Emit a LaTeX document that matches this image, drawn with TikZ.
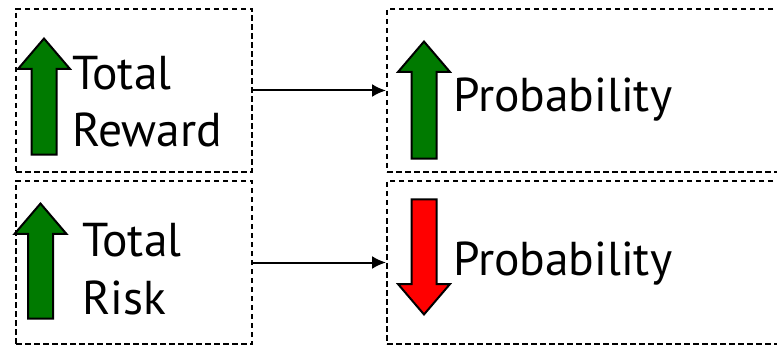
\documentclass[tikz,border=0pt]{standalone}
\usepackage{fontspec}
\setmainfont{PT Sans}
\usetikzlibrary{shapes.arrows,arrows.meta}
\definecolor{upgreen}{RGB}{0,122,0}
\definecolor{downred}{RGB}{255,0,0}
\begin{document}
\begin{tikzpicture}[x=1pt,y=1pt,
        panel/.style={draw,dash pattern=on 5.5pt off 3.5pt,line width=2pt,minimum width=236pt,minimum height=163pt,inner sep=0pt},
        wide panel/.style={panel,minimum width=413pt},
        bigarrow/.style={single arrow,draw,line width=2pt,inner sep=11.5pt,
            minimum height=116pt,single arrow head extend=13.5pt,single arrow tip angle=81,anchor=tip},
        word/.style={font=\fontsize{47.5}{58}\selectfont,align=left,inner sep=0pt,anchor=base west},
        link/.style={-{Latex[length=14pt,width=13pt]},line width=2pt}
    ]
    \useasboundingbox (0,0) rectangle (777,346);
    % left column
    \node[panel] (reward) at (134,255.5) {};
    \node[panel] (risk) at (134,83.5) {};
    % right column, cut at the right edge
    \node[wide panel] (probup) at (593.5,255.5) {};
    \node[wide panel] (probdown) at (593.5,83.5) {};
    % arrows
    \node[bigarrow,fill=upgreen,shape border rotate=90] (a1) at (44,309) {};
    \node[bigarrow,fill=upgreen,shape border rotate=90,minimum height=115pt] (a2) at (40.5,144) {};
    \node[bigarrow,fill=upgreen,shape border rotate=90,minimum height=117pt] (a3) at (424,306) {};
    \node[bigarrow,fill=downred,shape border rotate=270,minimum height=115pt] (a4) at (424,30) {};
    % texts (base is the last line)
    \node[word] (t1) at (72,199) {Total\\Reward};
    \node[word] (t2) at (82,32) {Total\\Risk};
    \node[word] (t3) at (453,234) {Probability};
    \node[word] (t4) at (453,71) {Probability};
    % links
    \draw[link] (reward.east) -- (probup.west);
    \draw[link] (risk.east) -- (probdown.west);
\end{tikzpicture}
\end{document}
